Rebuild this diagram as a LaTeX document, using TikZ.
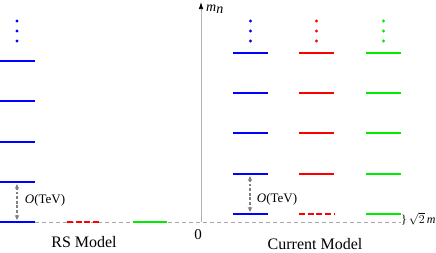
\documentclass[tikz,border=0pt]{standalone}
\usepackage{fontspec}
\setmainfont{Liberation Serif}
\usetikzlibrary{
    positioning,
    arrows.meta
}
\definecolor{lvgreen}{RGB}{0,235,0}
\tikzset{
    >=Stealth,
    level/.style={line width=1.6pt},
    halfdash/.style={dash pattern=on 6pt off 2.7pt},
    gapmark/.style={
        gray, line width=1.1pt,
        dash pattern=on 2.8pt off 1.8pt,
        {Stealth[length=5pt,width=4.5pt]}-{Stealth[length=5pt,width=4.5pt]}
    },
    tevlabel/.style={font=\fontsize{13}{13}\selectfont, inner sep=0pt},
    modellabel/.style={font=\fontsize{16}{16}\selectfont, inner sep=0pt}
}

\begin{document}
\begin{tikzpicture}[
    x=1pt, y=-1pt
]
    \useasboundingbox (0,0) rectangle (436,252);

    % Linea base
    \draw[gray!70, line width=0.6pt, dash pattern=on 4pt off 3pt]
        (0,222) -- (401,222);

    % Eje m_n
    \coordinate (axbot) at (201,222);
    \coordinate (axtop) at (201,2);
    \draw[gray!60, line width=0.7pt,
          -{Latex[black,length=7pt,width=4.5pt]}] (axbot) -- (axtop);
    \node[anchor=west, inner sep=0pt,
          font=\fontsize{14}{14}\selectfont] (mn) at (206,9)
        {\textit{m}$_{\textit{n}}$};
    \node[font=\fontsize{15}{15}\selectfont, inner sep=0pt]
        (zero) at (198,235) {0};

    % RS: torre azul
    \foreach \y in {61,101,142,182,222}
        \draw[level, blue] (0,\y) -- (35,\y);
    \foreach \y in {21,31,41}
        \fill[blue] (17,\y) circle (1.6pt);

    % RS: rojo y verde
    \draw[level, red, halfdash] (67,222) -- (99,222);
    \draw[level, lvgreen] (133,222) -- (167,222);

    % RS: separacion
    \coordinate (rshi) at (17,184);
    \coordinate (rslo) at (17,220);
    \draw[gapmark] (rshi) -- (rslo);
    \node[tevlabel] (rstev) at (45,200) {\textit{O}(TeV)};

    \node[modellabel] (rs) at (84,242) {RS Model};

    % Modelo actual: tres torres
    \foreach \x/\c in {233/blue, 299/red, 366/lvgreen} {
        \foreach \y in {53,93,133,174}
            \draw[level, \c] (\x,\y) -- ++(35,0);
        \foreach \y in {21,31,41}
            \fill[\c] (\x+17.5,\y) circle (1.6pt);
    }

    % Modelo actual: nivel mas bajo
    \draw[level, blue] (233,214) -- (268,214);
    \draw[level, red, halfdash] (299,214) -- (334,214);
    \draw[level, lvgreen] (366,214) -- (401,214);

    % Modelo actual: separacion
    \coordinate (cmhi) at (250,176);
    \coordinate (cmlo) at (250,212);
    \draw[gapmark] (cmhi) -- (cmlo);
    \node[tevlabel] (cmtev) at (277,199) {\textit{O}(TeV)};

    \node[anchor=west, inner sep=0pt, font=\fontsize{12}{12}\selectfont]
        (sqm) at (401,219) {\}\,$\sqrt{2}\,$\textit{m}};

    \node[modellabel] (cm) at (315,244.5) {Current Model};

\end{tikzpicture}
\end{document}
